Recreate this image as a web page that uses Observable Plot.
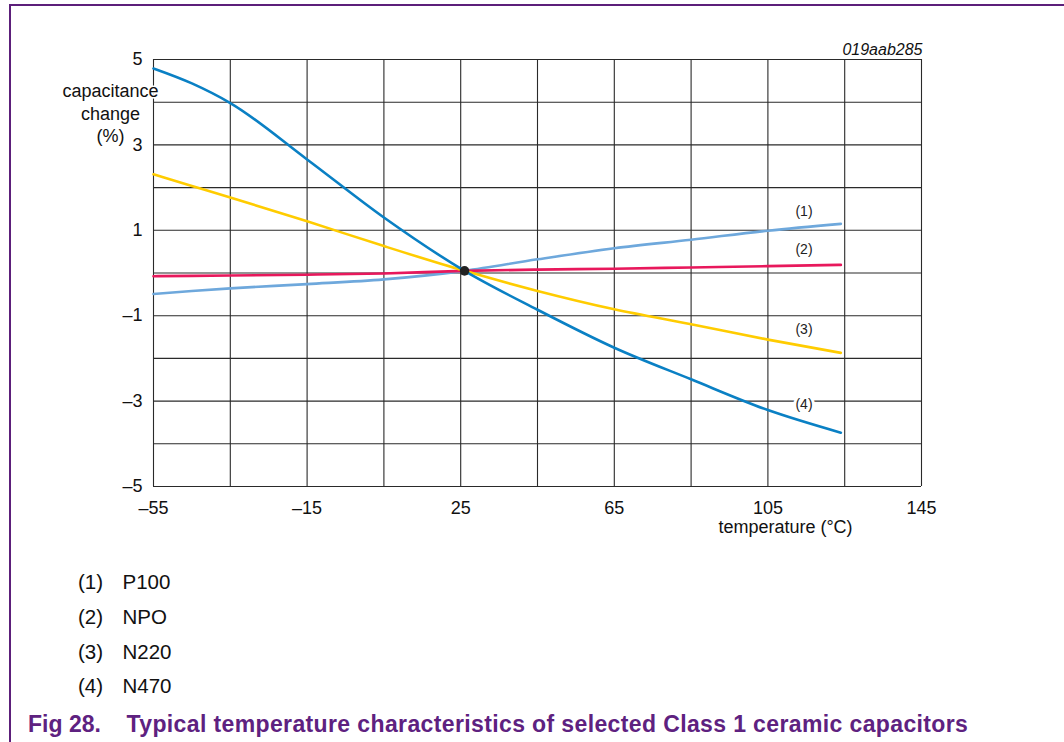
<!DOCTYPE html>
<html>
<head>
<meta charset="utf-8">
<script src="https://cdn.jsdelivr.net/npm/d3@7"></script>
<script src="https://cdn.jsdelivr.net/npm/@observablehq/plot@0.6"></script>
<style>
  body { margin: 0; background: #fff; font-family: "Liberation Sans", Arial, Helvetica, sans-serif; }
  #wrap { position: relative; width: 1064px; height: 742px; overflow: hidden; background: #fff; }
  #frame { position: absolute; left: 9px; top: 4px; right: -4px; bottom: -4px;
           border-left: 2px solid #5c1f7a; border-top: 2px solid #5c1f7a; pointer-events: none; }
  #chart { position: absolute; left: 0; top: 0; }
  .leg { position: absolute; font-size: 20.5px; line-height: 1; color: #111; white-space: nowrap; }
  .cap { position: absolute; font-size: 23px; line-height: 1; font-weight: bold; color: #5e2180; white-space: nowrap; }
</style>
</head>
<body>
<div id="wrap">
  <div id="chart"></div>
  <div id="legend"></div>
  <div id="caption"></div>
  <div id="frame"></div>
</div>
<script>
// ---- data ----
const temps = [-55, -45, -35, -15, 5, 26, 45, 65, 85, 105, 124];
const p100  = [-0.49, -0.42, -0.36, -0.26, -0.15, 0.05, 0.32, 0.58, 0.78, 0.99, 1.15];
const npo   = [-0.075, -0.068, -0.06, -0.04, -0.01, 0.05, 0.08, 0.10, 0.13, 0.16, 0.19];
const n220  = [2.31, 2.04, 1.77, 1.21, 0.63, 0.05, -0.42, -0.85, -1.20, -1.56, -1.87];
const n470  = [4.79, 4.44, 3.98, 2.66, 1.30, 0.05, -0.86, -1.75, -2.49, -3.21, -3.74];

const seriesNames  = ["P100", "NPO", "N220", "N470"];
const seriesNums   = ["(1)", "(2)", "(3)", "(4)"];
const seriesColors = ["#6ea8dc", "#e8185c", "#ffcc00", "#0a80c4"];
const seriesValues = [p100, npo, n220, n470];

const refPoint = [{t: 26, v: 0.05}];
const labelTemp = 114.4;
const labelValues = [1.43, 0.55, -1.32, -3.09];

const xTicks = [-55, -15, 25, 65, 105, 145];
const yTicks = [5, 3, 1, -1, -3, -5];
const xGrid = [-55, -35, -15, 5, 25, 45, 65, 85, 105, 125, 145];
const yGrid = [-5, -4, -3, -2, -1, 0, 1, 2, 3, 4, 5];

// ---- build ----
const fmt = d => d < 0 ? "\u2013" + Math.abs(d) : String(d);
const rows = seriesNames.flatMap((s, i) => temps.map((t, j) => ({s, t, v: seriesValues[i][j]})));
const labelRows = seriesNums.map((n, i) => ({n, t: labelTemp, v: labelValues[i]}));
const font = '"Liberation Sans", Arial, Helvetica, sans-serif';

const chart = Plot.plot({
  width: 1064,
  height: 545,
  marginLeft: 153,
  marginRight: 143,
  marginTop: 59,
  marginBottom: 59,
  x: {domain: [-55, 145]},
  y: {domain: [-5, 5]},
  color: {domain: seriesNames, range: seriesColors},
  style: {fontFamily: font, fontSize: "18px", color: "#111", background: "transparent"},
  marks: [
    Plot.ruleX(xGrid, {stroke: "#2a2a2a", strokeWidth: 1.1}),
    Plot.ruleY(yGrid, {stroke: "#2a2a2a", strokeWidth: 1.1}),
    Plot.line(rows, {x: "t", y: "v", z: "s", stroke: "s", strokeWidth: 2.6, curve: "monotone-x"}),
    Plot.dot(refPoint, {x: "t", y: "v", r: 4.8, fill: "#222", stroke: "none"}),
    Plot.text(labelRows, {x: "t", y: "v", text: "n", fontSize: 14, fill: "#222",
                          stroke: "white", strokeWidth: 6, fontFamily: font}),
    Plot.axisX({ticks: xTicks, tickFormat: fmt, tickSize: 0, tickPadding: 15, fontSize: 18, label: null}),
    Plot.axisY({ticks: yTicks, tickFormat: fmt, tickSize: 0, tickPadding: 11, fontSize: 18, label: null}),
    Plot.text(["capacitance\nchange\n(%)"], {frameAnchor: "top-left", dx: -43, dy: 21,
              lineAnchor: "top", lineHeight: 1.27, textAnchor: "middle", fontSize: 18,
              fill: "#111", stroke: "white", strokeWidth: 3}),
    Plot.text(["temperature (\u00b0C)"], {frameAnchor: "bottom", dx: 248, dy: 46,
              lineAnchor: "bottom", textAnchor: "middle", fontSize: 18, fill: "#111"}),
    Plot.text(["019aab285"], {frameAnchor: "top-right", dx: 1, dy: -4.7, lineAnchor: "bottom",
              textAnchor: "end", fontSize: 16, fontStyle: "italic", fill: "#111"})
  ]
});
document.getElementById("chart").appendChild(chart);

// legend (below the svg)
const legBase = [589.3, 624.8, 659.3, 693.6];
const legend = document.getElementById("legend");
seriesNums.forEach((n, i) => {
  const top = legBase[i] - 0.8465 * 20.5;
  const a = document.createElement("div");
  a.className = "leg"; a.style.left = "78px"; a.style.top = top + "px"; a.textContent = n;
  const b = document.createElement("div");
  b.className = "leg"; b.style.left = "122.5px"; b.style.top = top + "px"; b.textContent = seriesNames[i];
  legend.appendChild(a); legend.appendChild(b);
});

// caption
const capTop = 732.7 - 0.8465 * 23;
const caption = document.getElementById("caption");
const c1 = document.createElement("div");
c1.className = "cap"; c1.style.left = "28px"; c1.style.top = capTop + "px"; c1.textContent = "Fig 28.";
const c2 = document.createElement("div");
c2.className = "cap"; c2.style.left = "126.5px"; c2.style.top = capTop + "px";
c2.textContent = "Typical temperature characteristics of selected Class 1 ceramic capacitors";
caption.appendChild(c1); caption.appendChild(c2);
// spread the caption evenly to the reference's measured extent
const capWidth = 968.3 - 126.5;
const natural = c2.getBoundingClientRect().width;
const nChars = c2.textContent.length;
if (natural < capWidth) c2.style.letterSpacing = ((capWidth - natural) / nChars) + "px";
</script>
</body>
</html>
